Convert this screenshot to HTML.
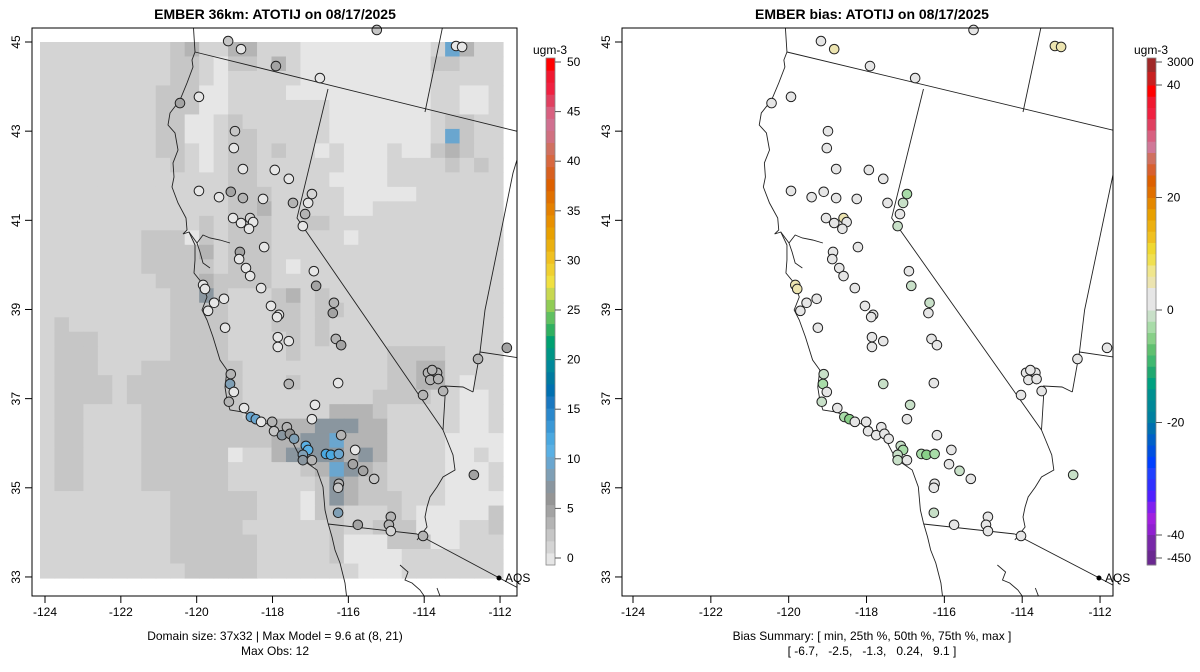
<!DOCTYPE html>
<html><head><meta charset="utf-8">
<style>
html,body{margin:0;padding:0;background:#fff;}
svg{display:block;font-family:"Liberation Sans",Arial,sans-serif;}
</style></head>
<body>
<svg id="root" width="1200" height="672" viewBox="0 0 1200 672" xmlns="http://www.w3.org/2000/svg">
<defs>
<clipPath id="clipL"><rect x="32" y="28" width="485" height="568"/></clipPath>
<clipPath id="clipR"><rect x="622" y="28" width="491" height="568"/></clipPath>
</defs>
<text x="275" y="19" text-anchor="middle" font-size="14" font-weight="bold">EMBER 36km: ATOTIJ on 08/17/2025</text>
<text x="872" y="19" text-anchor="middle" font-size="14" font-weight="bold">EMBER bias: ATOTIJ on 08/17/2025</text>
<g id="gridL" clip-path="url(#clipL)"></g>
<g id="mapL" clip-path="url(#clipL)"></g>
<g id="mapR" clip-path="url(#clipR)"></g>
<g id="ptsL"></g>
<g id="ptsR"></g>
<rect x="32" y="28" width="485" height="568" fill="none" stroke="#000" stroke-width="1"/>
<rect x="622" y="28" width="491" height="568" fill="none" stroke="#000" stroke-width="1"/>
<g id="axes" font-size="12"></g>
<g id="cbars" font-size="12"></g>
<g font-size="12" text-anchor="middle">
<text x="275" y="640">Domain size: 37x32 | Max Model = 9.6 at (8, 21)</text>
<text x="275" y="655">Max Obs: 12</text>
<text x="872" y="640">Bias Summary: [ min, 25th %, 50th %, 75th %, max ]</text>
<text x="872" y="655" xml:space="preserve">[ -6.7,   -2.5,   -1.3,   0.24,   9.1 ]</text>
</g>
</svg>
<script>
// ---- data ----
const gridRows = [
"bbbbbbbbbcdbbddbbbaaaaaaaaabfdbb","bbbbbbbbbccbaccbdbaaaaaaaaaccbbb","bbbbbbbbbccbabbbbbaaaaaaaaabbbbb",
"bbbbbbbbcccaabbbbaaaaaaaaaabbaab","bbbbbbbbcccaabbbbbbbaaaaaaabbaab","bbbbbbbbccaabcbbbbbbaaaaaaabccbb",
"bbbbbbbbccaabccbbbbbaaaaaaabfcbb","bbbbbbbbccbabccbcbbabaaabaacdcbb","bbbbbbbbbcbabccbbbbbbaaabbbbcbcb",
"bbbbbbbbbbbbbccbbbbbaaaabbbbbbbb","bbbbbbbbbbbbbcccbbbbbaaaaabbbbbb","bbbbbbbbbbbbbccdbbbbbaabbbbbbbbb",
"bbbbbbbbbbbcbcccbbccbbbbbbbbbbbb","bbbbbbbcccacbcccbbbbbabbbbbbbbbb","bbbbbbbccccdbcccbbbbbbbbbbbbbbbb",
"bbbbbbbcccccbcccbabbbbbbbbbbbbbb","bbbbbbbbcccdccccbbbbbbbbbbbbbbbb","bbbbbbbbbccecbbbcdbcbbbbbbbbbbbb",
"bbbbbbbbbccccbbbccbccbbbbbbbbbbb","bcbbbbbbbccccbbbccbcbbbbbbbbbbbb","bcccbbbbbccccbbbbcbcbbbbbbbbbbbb",
"bcccbbbbbccccbbbbcbbbbbbccccbbbb","bcccbbbcccccccbbbbbbbbbbccddbbbb","bccccbccccccccbbbcbbbbbbccddbabb",
"bccccbccccccccbbbbbbbbbccccbbaab","bccbbbbcccccccbbbbbbdddcbbbbbaab","bccbbbbcccccccccdddeeeddbbbbbaab",
"bccbbbbcccccccccddeefdddbbbbaaaa","bccbbbbccccccabbdeeeededbbbbaaba","bccbbbbccccccbbbbbcdfedcbbbbaaab",
"bccbbbbccccccbbbbbbcedccbbbbaaab","bbbbbbbbbccccccbbbacedcccbbbaaaa","bbbbbbbbbccccccbbbaccbbbcbaaaaac",
"bbbbbbbbbcccccbbbbbbcbbcccaaabbc","bbbbbbbbbccccccbbbbbcaaacccaabbb","bbbbbbbbbccccccbbbbbcaaaabbbbbbb",
"bbbbbbbbbbcccccbbbbbbbaaabbbbbbb"];
const levelValues = {a:0, b:1, c:2.5, d:3.5, e:6.8, f:9.5};
const siteLon = [-119.17,-118.83,-117.91,-116.75,-115.25,-113.16,-113.00,-120.44,-119.94,-118.99,-119.02,-118.78,-117.94,-117.57,-119.94,-119.41,-119.10,-118.78,-118.25,-117.46,-116.96,-117.06,-117.14,-117.20,-119.04,-118.83,-118.59,-118.51,-118.62,-118.22,-118.86,-118.88,-118.70,-118.59,-118.30,-116.91,-116.85,-119.83,-119.78,-119.28,-119.54,-119.70,-118.04,-117.83,-117.88,-116.38,-116.41,-119.25,-117.86,-117.57,-117.86,-116.33,-116.19,-119.10,-119.12,-119.02,-119.15,-117.57,-116.27,-118.75,-118.57,-118.44,-118.30,-118.01,-117.96,-117.75,-117.62,-117.54,-117.43,-117.12,-117.06,-117.20,-117.20,-116.96,-116.59,-116.46,-116.25,-116.19,-115.82,-115.88,-115.61,-115.32,-116.25,-116.27,-116.27,-116.88,-116.96,-115.75,-114.88,-114.93,-114.88,-114.03,-113.90,-113.66,-113.84,-113.63,-113.79,-114.03,-113.50,-112.58,-111.82,-112.69];
const siteLat = [45.02,44.84,44.46,44.19,45.27,44.91,44.89,43.63,43.77,43.00,42.62,42.15,42.13,41.93,41.66,41.52,41.64,41.50,41.48,41.39,41.59,41.39,41.14,40.87,41.05,40.94,41.05,40.96,40.81,40.40,40.29,40.13,39.93,39.75,39.48,39.86,39.53,39.55,39.46,39.24,39.15,38.97,39.08,38.88,38.83,39.15,38.92,38.59,38.38,38.29,38.16,38.34,38.20,37.55,37.33,37.15,36.93,37.33,37.35,36.79,36.59,36.54,36.48,36.48,36.27,36.18,36.36,36.21,36.10,35.94,35.85,35.74,35.62,35.62,35.76,35.74,35.76,36.18,35.85,35.53,35.38,35.20,35.09,35.00,34.44,36.86,36.54,34.17,34.35,34.17,34.03,33.92,37.58,37.58,37.42,37.44,37.64,37.08,37.17,37.89,38.14,35.29];
const siteObs = [2,0.3,4.5,0.3,2.8,0.3,0.3,4.5,0.3,2.8,0.3,0.3,0.3,0.3,0.3,0.2,4.5,3.5,0.3,3.5,1,0.3,3.5,0.3,0.3,0.2,1,0.3,0.3,0.3,4.5,0.3,0.3,0.3,0.3,0.3,4.5,0.2,0.2,0.3,0.3,0.3,0.3,0.2,0.3,3.5,4.5,0.3,0.3,0.3,0.3,3.5,4.5,3.5,9,0.2,3.5,3.5,0.3,0.3,9.5,9.5,0.3,3.5,2.8,7,3.5,6.5,8.5,10.5,10.5,8.5,7,3.5,12,12,9.5,3.5,0.3,4.5,4.5,2.8,3.5,2.8,8.5,0.3,0.3,4.5,3.5,3.5,1,3.5,3.5,3.5,3.5,3.5,3.5,3.5,3.5,3.5,4.5,4.5];
const siteBias = [0,5,0,0,0,5,5,0,0,0,0,0,0,0,0,0,0,0,0,0,-3,-2,0,-2,0,0,5,3,0,0,0,0,0,0,0,0,-2,5,5,0,0,0,0,0,0,-2,0,0,0,0,0,-1,0,-2,-4,0,-2,-2,0,0,-4,-5,0,0,0,0,0,0,0,-2,-4,-2,-2,0,-4,-5,-3,0,0,0,-2,0,0,0,-2,-2,-1,-1,0,0,0,0,0,0,0,0,0,0,0,0,0,-2];
const obsColors = ["#e6e6e6","#d4d4d4","#c6c6c6","#b4b4b4","#a3a3a3","#959595","#8a969f","#7f9fb5","#6aa6cf","#5ab0e4","#4aa8e0","#3a98d6","#2a88cc","#1a78c0","#0070b0","#007aa0","#00889a","#009585","#00a070","#30b060","#60c060","#90cc55","#c8d850","#f0e040","#f0d030","#f0c020","#eab010","#e8a000","#e89000","#e48000","#e07000","#dd6000","#d86020","#d86840","#d07060","#d07080","#d07090","#d86080","#e04060","#f02040","#f01830","#ff0000"];
const obsTicks = [0,5,10,15,20,25,30,35,40,45,50];
const obsRange = [-0.7, 50.4];
const biasColors = ["#9020d0","#a020e0","#8020f0","#5020ff","#3030ff","#2040ff","#0040ff","#0050e0","#0060c8","#0070b0","#0080a0","#008898","#009090","#00a080","#20a870","#40b870","#60c070","#88d088","#a8dca8","#c8e0c8","#e6e6e6","#e6e6e6","#ece4b0","#f0e68c","#f0e050","#f0d830","#f0c020","#ecb010","#e8a000","#e48800","#e07000","#dd6000","#d86030","#d07060","#d07898","#d86080","#e04060","#f02040","#f01830","#ff0000"];
const biasLowColors = ["#6a2890","#7828a8"];
const biasHighColors = ["#c82020","#a02828"];
const biasTicks = [-450,-40,-20,0,20,40,3000];
const lonTicks = [-124,-122,-120,-118,-116,-114,-112];
const latTicks = [33,35,37,39,41,43,45];

// ---- scales ----
const NS="http://www.w3.org/2000/svg";
const yLat = lat => 42 + (45-lat)*44.58;
const xLonL = lon => 45 + (lon+124)*37.92;
const xLonR = lon => 633 + (lon+124)*38.92;
const pxToR = x => 633 + (x-45)*(467/455);
function mk(tag, attrs, parent){const e=document.createElementNS(NS,tag);for(const k in attrs)e.setAttribute(k,attrs[k]);parent.appendChild(e);return e;}
function obsColor(v){const w=(obsRange[1]-obsRange[0])/obsColors.length;let i=Math.floor((v-obsRange[0])/w);i=Math.max(0,Math.min(obsColors.length-1,i));return obsColors[i];}
function biasColor(v){if(v<-40)return biasLowColors[1];if(v>40)return biasHighColors[0];let i=Math.floor((v+40)/2);if(v>-2&&v<2)i=20;i=Math.max(0,Math.min(biasColors.length-1,i));return biasColors[i];}
const obsBarY = v => 558 - v*(558-62)/50;
function biasBarY(v){if(v>40)return 62;if(v<-40)return 558;return 310 - v*(310-85)/40;}

// ---- heatmap ----
const gL=document.getElementById('gridL');
const cols=32, rows=gridRows.length, gx0=40, gy0=42, gw=463/cols, gh=536/rows;
gridRows.forEach((row,j)=>{
  const s=(row+"b".repeat(cols)).slice(0,cols);
  for(let i=0;i<cols;i++){
    const r=mk('rect',{x:gx0+i*gw,y:gy0+j*gh,width:gw+0.6,height:gh+0.6,fill:obsColor(levelValues[s[i]])},gL);
    
    
  }
});

// ---- map outlines (left-panel pixel geometry) ----
const lines=[
[[193,20],[195,52],[192,60],[193,67],[187,83],[180,100],[170,113],[168,125],[175,133],[178,150],[173,163],[174,177],[172,187],[178,203],[186,218],[187,230],[183,234],[189,232],[195,245],[195,260],[194,273],[202,283],[207,297],[202,310],[207,320],[213,337],[220,360],[227,370],[225,387],[227,400],[230,410],[243,412],[260,420],[273,427],[290,437],[300,457],[307,463],[317,470],[323,487],[325,510],[328,523],[332,537],[335,550],[340,563],[345,583],[347,600]],
[[189,232],[197,243],[203,235],[210,238],[220,240],[230,243]],
[[197,243],[200,252],[203,263],[210,268]],
[[195,52],[520,132]],
[[444,20],[425,112]],
[[328,89],[297,218],[443,430]],
[[443,430],[447,440],[453,455],[455,470],[443,477],[437,487],[430,497],[427,507],[425,517],[427,527],[417,540]],
[[520,150],[513,173],[485,310],[480,352],[473,392]],
[[480,352],[520,358]],
[[473,392],[463,387],[445,386],[445,397],[443,430]],
[[328,524],[417,534]],
[[417,534],[520,589]],
[[400,565],[408,572],[405,580],[412,583],[420,590],[427,600]],
[[437,588],[440,596]]
];
const mL=document.getElementById('mapL'), mR=document.getElementById('mapR');
lines.forEach(pts=>{
  const a=mk('polyline',{points:pts.map(p=>p[0]+','+p[1]).join(' '),fill:'none',stroke:'#222','stroke-width':0.9},mL);
  
  
  const b=mk('polyline',{points:pts.map(p=>pxToR(p[0])+','+p[1]).join(' '),fill:'none',stroke:'#222','stroke-width':0.9},mR);
  
  
});

// ---- sites ----
const pL=document.getElementById('ptsL'), pR=document.getElementById('ptsR');
siteLon.forEach((lon,k)=>{
  const y=yLat(siteLat[k]);
  const c1=mk('circle',{cx:xLonL(lon),cy:y,r:4.8,fill:obsColor(siteObs[k]),stroke:'#222','stroke-width':1},pL);
  
  
  const c2=mk('circle',{cx:xLonR(lon),cy:y,r:4.8,fill:biasColor(siteBias[k]),stroke:'#222','stroke-width':1},pR);
  
  
});
[[499,'left'],[pxToR(499),'right']].forEach(([x,s])=>{
  const d=mk('circle',{cx:x,cy:578,r:2.5,fill:'#000'},pL);
  
  
  const t=mk('text',{x:x+6,y:582,'font-size':12},pL);t.textContent='AQS';
  
  
});

// ---- axes ----
const ax=document.getElementById('axes');
[[32,xLonL],[622,xLonR]].forEach(([x0,xf])=>{
  lonTicks.forEach(v=>{
    const x=xf(v);
    const l=mk('line',{x1:x,y1:596,x2:x,y2:603,stroke:'#000'},ax);
    
    
    const t=mk('text',{x:x,y:616,'text-anchor':'middle'},ax);t.textContent=v;
    
    
  });
  latTicks.forEach(v=>{
    const y=yLat(v);
    const l=mk('line',{x1:x0,y1:y,x2:x0-7,y2:y,stroke:'#000'},ax);
    
    
    const t=mk('text',{x:x0-12,y:y,'text-anchor':'middle',transform:`rotate(-90 ${x0-12} ${y})`},ax);t.textContent=v;
    
    
  });
});

// ---- colorbars ----
const cb=document.getElementById('cbars');
{const top=58,bot=565,n=obsColors.length,h=(bot-top)/n;
 obsColors.forEach((c,i)=>{const r=mk('rect',{x:546,y:bot-(i+1)*h,width:9,height:h+0.5,fill:c},cb);
  
  });
 const f=mk('rect',{x:546,y:top,width:9,height:bot-top,fill:'none',stroke:'#888','stroke-width':0.8},cb);
 
 
 obsTicks.forEach(v=>{const y=obsBarY(v);
  const l=mk('line',{x1:555,y1:y,x2:561,y2:y,stroke:'#555'},cb);
  
  
  const t=mk('text',{x:567,y:y+4},cb);t.textContent=v;
  
  });
 const u=mk('text',{x:550,y:54,'text-anchor':'middle'},cb);u.textContent='ugm-3';
 
 
}
{const top=58,bot=565,x=1147;
 const yHi=biasBarY(40), yLo=biasBarY(-40), h=(yLo-yHi)/biasColors.length;
 biasColors.forEach((c,i)=>{const r=mk('rect',{x:x,y:yLo-(i+1)*h,width:9,height:h+0.5,fill:c},cb);
  
  });
 const hh=(yHi-top)/biasHighColors.length;
 biasHighColors.forEach((c,i)=>{const r=mk('rect',{x:x,y:yHi-(i+1)*hh,width:9,height:hh+0.5,fill:c},cb);
  
  });
 const lh=(bot-yLo)/biasLowColors.length;
 biasLowColors.forEach((c,i)=>{const r=mk('rect',{x:x,y:bot-(i+1)*lh,width:9,height:lh+0.5,fill:c},cb);
  
  });
 const f=mk('rect',{x:x,y:top,width:9,height:bot-top,fill:'none',stroke:'#888','stroke-width':0.8},cb);
 
 
 biasTicks.forEach(v=>{const y=biasBarY(v);
  const l=mk('line',{x1:x+9,y1:y,x2:x+15,y2:y,stroke:'#555'},cb);
  
  
  const t=mk('text',{x:x+20,y:y+4},cb);t.textContent=v;
  
  });
 const u=mk('text',{x:x+4,y:54,'text-anchor':'middle'},cb);u.textContent='ugm-3';
 
 
}
</script>
</body></html>
